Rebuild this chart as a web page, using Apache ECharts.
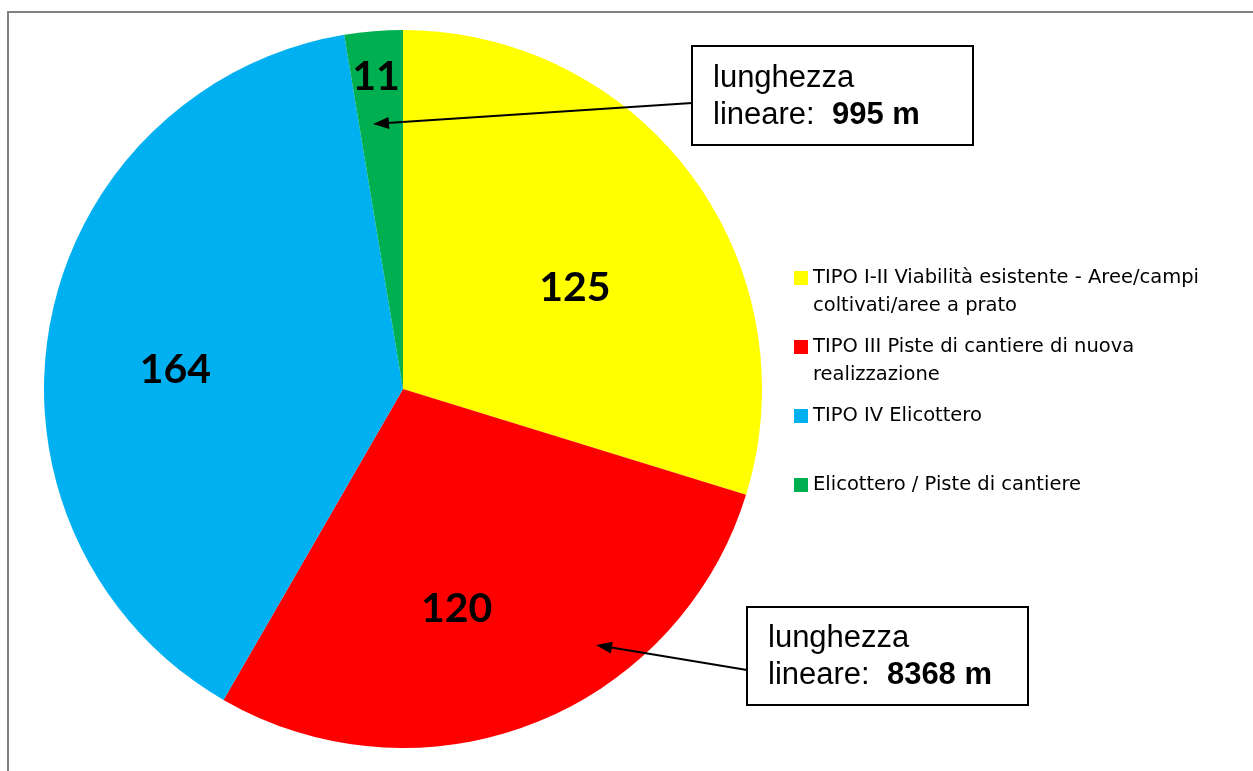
<!DOCTYPE html>
<html>
<head>
<meta charset="utf-8">
<script src="https://cdn.jsdelivr.net/npm/echarts@6/dist/echarts.min.js"></script>
<style>
html,body{margin:0;padding:0;background:#fff;}
#chart{width:1253px;height:771px;}
</style>
</head>
<body>
<div id="chart"></div>
<script>
// ---- data ----
var categories = [
  'TIPO I-II Viabilità esistente - Aree/campi coltivati/aree a prato',
  'TIPO III Piste di cantiere di nuova realizzazione',
  'TIPO IV Elicottero',
  'Elicottero / Piste di cantiere'
];
var legendLabels = [
  'TIPO I-II Viabilità esistente - Aree/campi\ncoltivati/aree a prato',
  'TIPO III Piste di cantiere di nuova\nrealizzazione',
  'TIPO IV Elicottero',
  'Elicottero / Piste di cantiere'
];
var values = [125, 120, 164, 11];
var colors = ['#FFFF00', '#FF0000', '#00B0F0', '#00B050'];
var calloutLines1 = ['lunghezza', 'lunghezza'];
var calloutValues = ['995 m', '8368 m'];

// ---- layout (styling only) ----
var labelShift = [[25, 7], [-13, 50], [-48, 13], [-12, -130]];
var legendTops = [236, 305, 402, 471];

var chart = echarts.init(document.getElementById('chart'), null, {renderer: 'canvas'});

var pieData = categories.map(function (c, i) {
  return {name: c, value: values[i], itemStyle: {color: colors[i]}};
});

var legends = categories.map(function (c, i) {
  var lbl = legendLabels[i];
  // keep the marker level with the first line of a two-line entry
  if (lbl.indexOf('\n') >= 0) { lbl = ' \n' + lbl; }
  return {
    data: [c],
    orient: 'vertical',
    left: 794,
    top: legendTops[i],
    padding: 0,
    icon: 'rect',
    itemWidth: 14,
    itemHeight: 14,
    selectedMode: false,
    formatter: function () { return lbl; },
    textStyle: {
      fontFamily: 'DejaVu Sans',
      fontSize: 19.5,
      lineHeight: 28,
      color: '#000'
    }
  };
});

function arrow(x1, y1, x2, y2) {
  var dx = x2 - x1, dy = y2 - y1, len = Math.sqrt(dx * dx + dy * dy);
  var ux = dx / len, uy = dy / len, px = -uy, py = ux;
  var hl = 16, hw = 6;
  var bx = x2 - ux * hl, by = y2 - uy * hl;
  return [
    {type: 'line', silent: true, z: 10,
     shape: {x1: x1, y1: y1, x2: bx + ux * 2, y2: by + uy * 2},
     style: {stroke: '#000', lineWidth: 2}},
    {type: 'polygon', silent: true, z: 10,
     shape: {points: [[x2, y2], [bx + px * hw, by + py * hw], [bx - px * hw, by - py * hw]]},
     style: {fill: '#000'}}
  ];
}

function callout(x, y, w, h, i) {
  return {
    type: 'group', silent: true, z: 11,
    children: [
      {type: 'rect', shape: {x: x, y: y, width: w, height: h},
       style: {fill: '#fff', stroke: '#000', lineWidth: 2}},
      {type: 'text', x: x + 21, y: y + h / 2 + 1,
       style: {
         text: calloutLines1[i] + '\nlineare:  {b|' + calloutValues[i] + '}',
         fontFamily: 'Liberation Sans, Arial, sans-serif',
         fontSize: 31,
         lineHeight: 37,
         fill: '#000',
         verticalAlign: 'middle',
         align: 'left',
         rich: {b: {fontWeight: 'bold', fontFamily: 'Liberation Sans, Arial, sans-serif', fontSize: 31, lineHeight: 37}}
       }}
    ]
  };
}

var graphics = [
  {type: 'rect', silent: true, z: -1,
   shape: {x: 8, y: 12, width: 1400, height: 1000},
   style: {fill: 'none', stroke: '#808080', lineWidth: 2}}
].concat(arrow(692, 103, 373, 124))
 .concat(arrow(747, 670, 596, 645))
 .concat([callout(692, 46, 281, 99, 0), callout(747, 607, 281, 98, 1)]);

chart.setOption({
  animation: false,
  backgroundColor: '#fff',
  legend: legends,
  graphic: graphics,
  series: [{
    type: 'pie',
    center: [403, 389],
    radius: 359,
    startAngle: 90,
    clockwise: true,
    data: pieData,
    itemStyle: {borderWidth: 0},
    emphasis: {disabled: true},
    labelLine: {show: false},
    label: {
      show: true,
      position: 'inside',
      formatter: '{c}',
      fontFamily: 'Lato',
      fontWeight: 'bold',
      fontSize: 41,
      color: '#000'
    },
    labelLayout: function (p) {
      var s = labelShift[p.dataIndex];
      return {dx: s[0], dy: s[1]};
    }
  }]
});
</script>
</body>
</html>
